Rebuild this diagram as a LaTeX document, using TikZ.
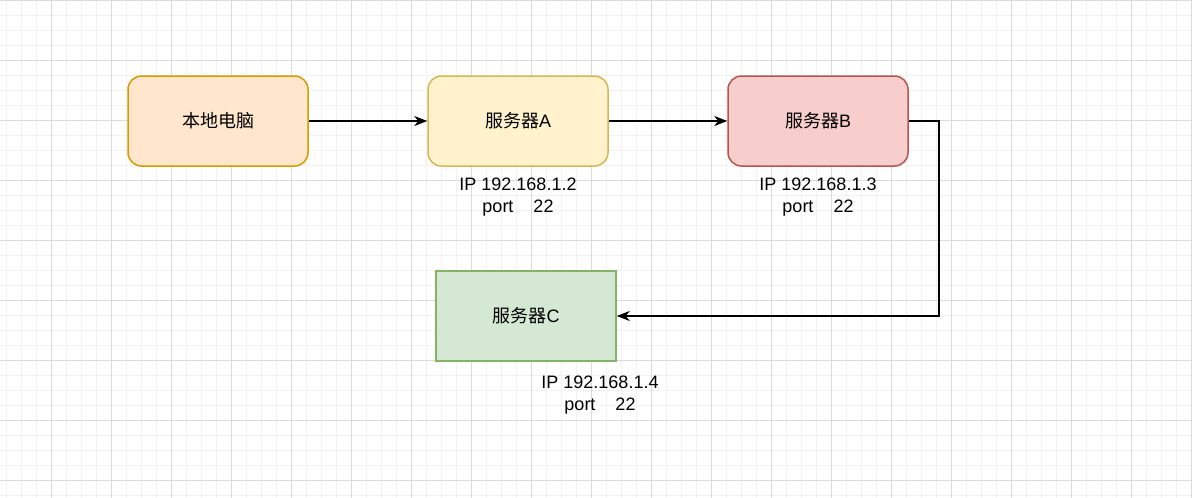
\documentclass[tikz,border=0pt]{standalone}
\usepackage{fontspec}
\setmainfont{Liberation Sans}
\newfontfamily\cjk{Noto Sans CJK SC}
\usetikzlibrary{arrows.meta}

\definecolor{gridminor}{HTML}{F2F2F2}
\definecolor{gridmajor}{HTML}{DADADA}
\definecolor{orangefill}{HTML}{FFE6CC}
\definecolor{orangeline}{HTML}{D79B00}
\definecolor{yellowfill}{HTML}{FFF2CC}
\definecolor{yellowline}{HTML}{D6B656}
\definecolor{redfill}{HTML}{F8CECC}
\definecolor{redline}{HTML}{B85450}
\definecolor{greenfill}{HTML}{D5E8D4}
\definecolor{greenline}{HTML}{82B366}

\begin{document}
\begin{tikzpicture}[x=1pt, y=-1pt, node distance={300pt},
        font=\fontsize{18}{22}\selectfont,
        main/.style = {draw, line width=1.5pt, minimum width=180pt, minimum height=90pt, inner sep=0pt},
        info/.style = {align=center, inner sep=0pt},
        link/.style = {line width=1.5pt, -{Stealth[length=13pt, width=10pt, inset=4pt]}}]
        \useasboundingbox (0,0) rectangle (1192,498);
        \fill[white] (0,0) rectangle (1192,498);
        % grid
        \foreach \x in {6.5,21.5,...,1192} \draw[gridminor, line width=1pt] (\x,0) -- (\x,498);
        \foreach \y in {0.5,15.5,...,498} \draw[gridminor, line width=1pt] (0,\y) -- (1192,\y);
        \foreach \x in {51.5,111.5,...,1192} \draw[gridmajor, line width=1pt] (\x,0) -- (\x,498);
        \foreach \y in {0.5,60.5,...,498} \draw[gridmajor, line width=1pt] (0,\y) -- (1192,\y);
        % boxes
        \node[main, rounded corners=13.5pt, fill=orangefill, draw=orangeline] (local) at (218,121) {{\cjk 本地电脑}};
        \node[main, rounded corners=13.5pt, fill=yellowfill, draw=yellowline] (srvA) [right of=local] {{\cjk 服务器}A};
        \node[main, rounded corners=13.5pt, fill=redfill, draw=redline] (srvB) [right of=srvA] {{\cjk 服务器}B};
        \node[main, fill=greenfill, draw=greenline] (srvC) at (526,316) {{\cjk 服务器}C};
        % addresses
        \node[info] (ipA) at (518,197.5) {IP 192.168.1.2\\port\hspace{20pt}22};
        \node[info] (ipB) at (818,197) {IP 192.168.1.3\\port\hspace{20pt}22};
        \node[info] (ipC) at (600,395.5) {IP 192.168.1.4\\port\hspace{20pt}22};
        % links
        \draw[link] (local) -- (srvA);
        \draw[link] (srvA) -- (srvB);
        \draw[link] (srvB.east) -- ++(30,0) |- (srvC.east);
    \end{tikzpicture}
\end{document}
